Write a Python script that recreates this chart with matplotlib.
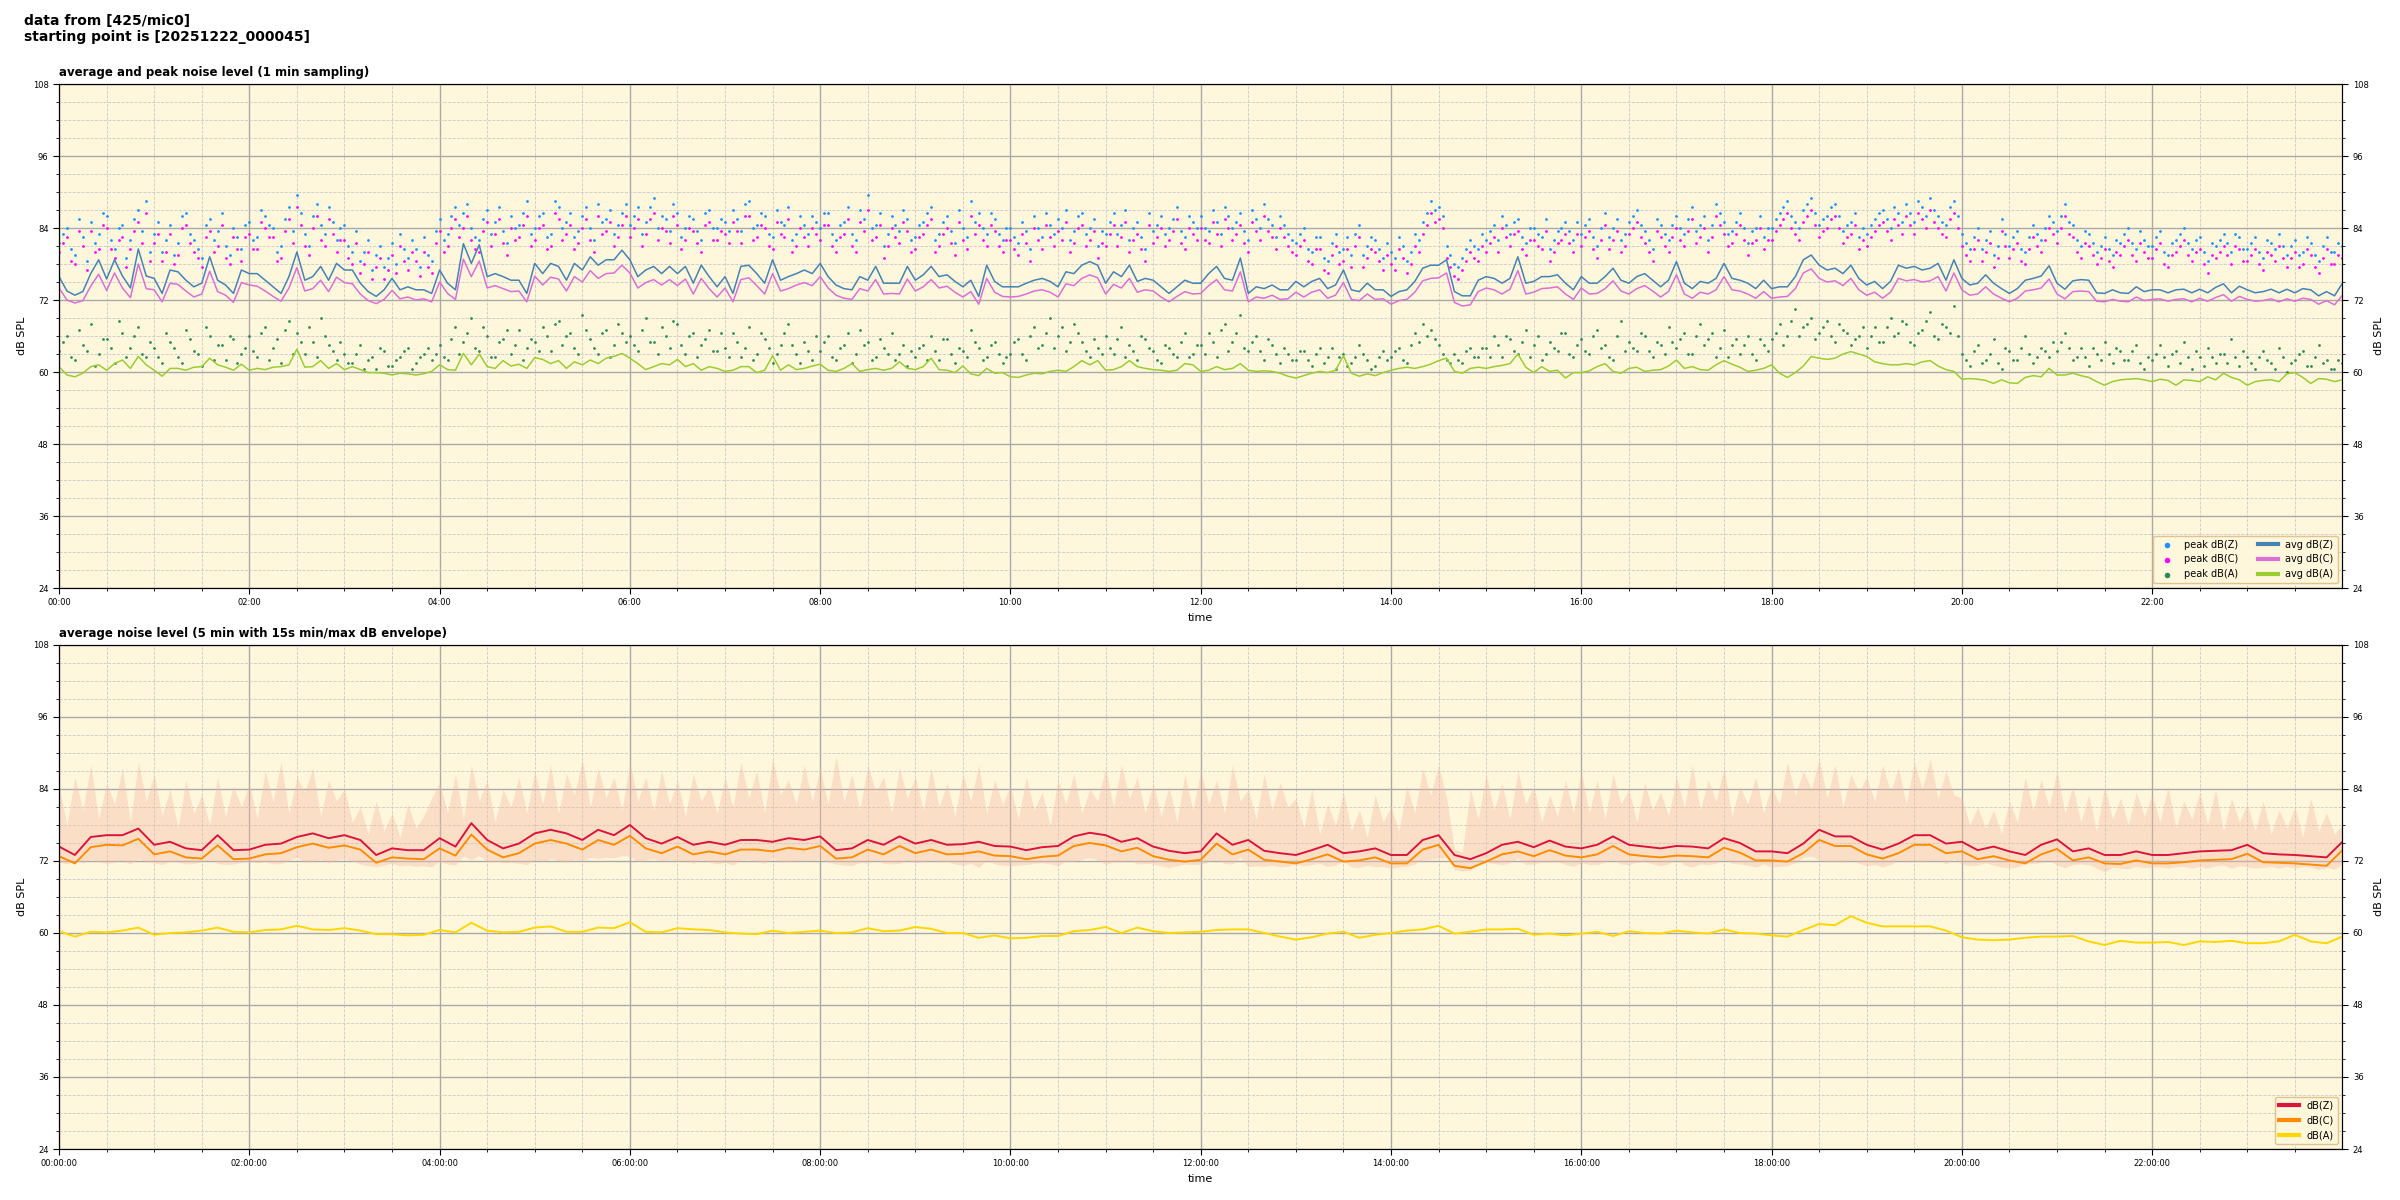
"""Daily noise level overview for one microphone (1 min and 5 min views)."""

import matplotlib
matplotlib.use("Agg")
import matplotlib.dates as mdates
import matplotlib.pyplot as plt
import pandas as pd

SOURCE = "425/mic0"
START = "20251222_000045"

# --- top panel, 5 min steps ---
avg_z = [
    75.9, 73.5, 72.8, 73.4, 76.4, 78.7, 75.5, 78.7, 76.0, 74.0, 80.5, 76.0,
    75.6, 73.1, 77.0, 76.7, 75.3, 74.2, 74.8, 79.2, 75.3, 74.5, 73.1, 77.0,
    76.4, 76.4, 75.3, 74.2, 73.1, 75.9, 80.0, 75.3, 75.9, 77.6, 75.3, 78.1,
    77.0, 77.0, 74.8, 73.4, 72.6, 73.7, 75.6, 73.7, 74.2, 73.7, 73.7, 73.1,
    77.0, 74.8, 73.7, 81.4, 78.1, 81.2, 75.9, 76.4, 75.9, 75.3, 75.3, 73.1,
    78.1, 76.4, 78.1, 77.6, 75.3, 78.1, 77.0, 79.2, 77.8, 78.7, 78.7, 80.3,
    78.7, 75.9, 77.0, 77.6, 76.4, 77.6, 76.4, 77.6, 74.8, 77.8, 75.9, 74.2,
    75.9, 73.1, 77.6, 77.8, 76.4, 74.8, 78.7, 75.3, 75.9, 76.4, 77.0, 76.4,
    78.1, 75.9, 74.5, 73.9, 73.7, 75.9, 75.3, 77.6, 74.8, 74.8, 74.8, 77.6,
    75.3, 76.2, 77.6, 75.9, 76.2, 75.1, 74.2, 75.3, 72.6, 77.8, 75.1, 74.2,
    74.2, 74.2, 74.8, 75.3, 75.6, 75.1, 74.2, 76.7, 76.4, 77.8, 78.4, 77.8,
    74.8, 76.7, 75.9, 77.8, 75.1, 75.6, 75.3, 74.2, 73.1, 74.2, 75.3, 74.8,
    74.8, 76.4, 77.6, 75.6, 75.3, 79.0, 73.1, 74.2, 73.9, 74.5, 73.7, 73.7,
    75.1, 74.2, 75.1, 75.6, 73.9, 74.5, 77.0, 73.7, 73.4, 74.8, 73.7, 73.7,
    72.6, 73.4, 73.7, 75.1, 77.3, 77.8, 77.8, 78.7, 73.4, 72.7, 72.7, 75.3,
    75.9, 75.6, 74.8, 75.6, 79.2, 74.8, 75.1, 75.9, 75.9, 76.2, 74.8, 73.7,
    75.9, 74.8, 74.8, 75.9, 77.3, 75.3, 74.8, 75.9, 76.4, 75.3, 74.2, 75.3,
    78.4, 74.8, 73.9, 75.1, 74.8, 75.6, 78.1, 75.6, 75.3, 74.8, 73.9, 75.3,
    73.9, 74.2, 74.2, 75.9, 78.7, 79.5, 77.8, 77.0, 77.3, 76.4, 77.8, 75.6,
    74.5, 75.1, 73.9, 75.1, 77.8, 77.3, 77.6, 77.0, 77.3, 78.1, 75.3, 78.7,
    75.6, 74.5, 74.8, 76.2, 74.8, 73.9, 73.1, 73.9, 75.3, 75.6, 76.0, 77.7,
    74.8, 73.8, 75.2, 75.4, 75.3, 73.2, 73.1, 73.7, 73.2, 73.1, 74.2, 73.4,
    73.7, 73.7, 73.2, 73.7, 73.8, 73.2, 73.8, 73.2, 74.1, 74.7, 73.2, 74.3,
    73.7, 73.2, 73.4, 73.8, 73.2, 73.8, 73.2, 73.9, 73.7, 72.7, 73.4, 72.7,
    74.8,
]
avg_c = [
    74.0, 72.0, 71.5, 71.9, 74.3, 76.3, 73.6, 76.5, 74.0, 72.4, 78.0, 73.9,
    73.7, 71.7, 74.8, 74.6, 73.5, 72.5, 73.0, 76.8, 73.4, 72.8, 71.6, 74.9,
    74.5, 74.3, 73.5, 72.6, 71.8, 74.0, 77.4, 73.5, 73.9, 75.3, 73.4, 75.8,
    74.9, 74.7, 73.0, 71.9, 71.4, 72.1, 73.6, 72.2, 72.5, 72.0, 72.2, 71.7,
    75.0, 73.1, 72.1, 78.8, 75.9, 78.5, 74.0, 74.4, 73.9, 73.4, 73.5, 71.7,
    76.0, 74.5, 75.8, 75.5, 73.5, 75.9, 75.0, 76.9, 75.6, 76.4, 76.5, 77.8,
    76.5, 74.0, 74.9, 75.4, 74.5, 75.4, 74.4, 75.5, 73.0, 75.6, 73.9, 72.5,
    74.0, 71.7, 75.4, 75.7, 74.4, 73.0, 76.4, 73.5, 73.9, 74.5, 74.9, 74.4,
    75.9, 74.0, 72.8, 72.3, 72.1, 73.9, 73.5, 75.4, 73.0, 73.1, 73.0, 75.5,
    73.5, 74.2, 75.4, 74.0, 74.3, 73.3, 72.5, 73.4, 71.3, 75.6, 73.3, 72.6,
    72.5, 72.6, 73.0, 73.5, 73.7, 73.3, 72.5, 74.7, 74.4, 75.6, 76.2, 75.7,
    73.0, 74.6, 74.0, 75.6, 73.3, 73.7, 73.5, 72.5, 71.7, 72.6, 73.4, 73.0,
    73.1, 74.4, 75.4, 73.7, 73.5, 76.7, 71.7, 72.5, 72.3, 72.8, 72.1, 72.2,
    73.3, 72.5, 73.3, 73.7, 72.3, 72.8, 74.9, 72.1, 71.9, 73.0, 72.1, 72.2,
    71.3, 71.9, 72.1, 73.3, 75.2, 75.6, 75.7, 76.5, 71.6, 71.0, 71.2, 73.4,
    74.0, 73.7, 73.0, 73.8, 76.9, 73.0, 73.3, 73.9, 74.0, 74.2, 73.0, 72.1,
    74.0, 73.0, 73.1, 73.9, 75.2, 73.5, 73.0, 73.9, 74.4, 73.5, 72.5, 73.4,
    76.2, 73.0, 72.3, 73.3, 73.0, 73.7, 75.9, 73.7, 73.5, 73.0, 72.3, 73.4,
    72.3, 72.5, 72.6, 73.9, 76.5, 77.2, 75.6, 75.0, 75.2, 74.4, 75.6, 73.7,
    72.8, 73.3, 72.3, 73.3, 75.6, 75.2, 75.4, 75.0, 75.2, 75.9, 73.5, 76.5,
    73.7, 72.8, 73.0, 74.2, 73.0, 72.3, 71.7, 72.3, 73.5, 73.7, 74.0, 75.5,
    73.0, 72.2, 73.4, 73.5, 73.4, 71.8, 71.7, 72.1, 71.8, 71.7, 72.5, 71.9,
    72.1, 72.2, 71.8, 72.1, 72.2, 71.7, 72.3, 71.8, 72.4, 72.9, 71.8, 72.6,
    72.1, 71.8, 71.9, 72.2, 71.7, 72.2, 71.8, 72.3, 72.1, 71.3, 71.9, 71.2,
    72.8,
]
avg_a = [
    60.9, 59.5, 59.2, 59.8, 60.9, 61.2, 60.3, 61.4, 62.0, 60.6, 62.6, 61.2,
    60.3, 59.3, 60.6, 60.6, 60.3, 60.8, 60.9, 62.3, 61.2, 60.8, 60.3, 61.3,
    60.3, 60.6, 60.4, 60.8, 60.9, 61.2, 63.8, 60.8, 60.9, 61.9, 60.6, 61.4,
    60.4, 60.9, 60.4, 59.9, 59.9, 59.8, 59.5, 59.8, 59.7, 59.5, 59.7, 60.1,
    61.2, 60.4, 60.3, 63.1, 61.2, 63.0, 60.9, 60.6, 61.9, 61.0, 61.3, 60.6,
    62.4, 62.1, 61.4, 61.9, 60.6, 61.7, 61.2, 62.0, 61.4, 62.3, 62.6, 63.1,
    62.3, 61.4, 60.4, 60.9, 61.4, 61.2, 62.1, 60.9, 61.4, 60.3, 60.9, 60.6,
    60.1, 60.3, 60.9, 60.9, 59.9, 60.3, 62.7, 60.3, 61.2, 60.4, 60.6, 61.0,
    61.3, 60.3, 60.1, 60.6, 61.4, 60.1, 60.4, 60.6, 60.3, 60.6, 61.7, 60.6,
    60.4, 60.9, 62.3, 60.4, 60.3, 59.9, 61.0, 59.7, 59.4, 60.6, 59.8, 59.9,
    59.2, 59.1, 59.5, 59.8, 59.7, 60.1, 60.3, 60.1, 60.9, 61.9, 61.2, 61.9,
    60.3, 60.4, 60.9, 61.9, 60.9, 60.6, 60.4, 60.3, 60.1, 60.3, 61.4, 61.2,
    60.1, 60.3, 60.9, 60.4, 60.6, 61.4, 60.3, 60.1, 60.2, 60.1, 59.8, 59.3,
    59.0, 59.4, 59.8, 60.1, 59.9, 60.3, 62.7, 59.8, 59.3, 59.7, 59.4, 59.9,
    60.3, 60.6, 60.8, 60.6, 60.9, 61.3, 61.9, 62.3, 60.1, 59.8, 60.6, 60.8,
    60.6, 60.9, 61.1, 61.4, 63.0, 60.8, 59.9, 60.9, 60.1, 60.3, 59.0, 59.9,
    59.9, 60.2, 60.9, 61.4, 60.1, 59.8, 60.6, 60.8, 60.1, 60.3, 60.4, 61.0,
    62.0, 60.6, 60.9, 60.4, 60.3, 61.2, 61.9, 61.3, 60.8, 60.1, 60.3, 60.6,
    61.2, 59.8, 59.1, 59.9, 61.0, 62.6, 62.3, 62.1, 62.3, 63.0, 63.4, 63.0,
    62.6, 61.7, 61.4, 61.2, 61.2, 61.4, 61.2, 61.7, 61.9, 61.0, 60.4, 60.1,
    58.8, 58.9, 58.8, 58.6, 58.1, 58.7, 58.2, 58.1, 59.1, 59.4, 59.2, 60.6,
    59.5, 59.5, 59.8, 59.4, 59.1, 58.4, 57.8, 58.4, 58.7, 58.8, 58.9, 58.7,
    58.4, 58.8, 58.6, 57.8, 58.7, 58.6, 58.4, 59.2, 58.7, 59.8, 59.1, 58.7,
    57.8, 58.4, 58.6, 58.7, 58.4, 59.7, 59.9, 59.1, 58.1, 58.9, 58.8, 58.4,
    58.7,
]
# per-minute peaks, two readings per 5 min slot (on the slot and 2.5 min after)
peak_z = [
    81.5, 84.0, 79.5, 82.5, 85.0, 83.0, 86.0, 80.5, 84.5, 82.0, 87.0, 88.5,
    83.0, 80.0, 84.5, 81.5, 86.5, 82.0, 79.0, 85.5, 83.5, 81.0, 84.0, 80.5,
    85.0, 82.5, 86.0, 84.0, 81.0, 87.5, 89.5, 83.0, 86.0, 84.5, 87.5, 82.0,
    84.5, 80.0, 78.5, 82.0, 79.5, 77.5, 81.5, 83.0, 79.0, 80.5, 82.5, 78.5,
    85.5, 83.0, 87.5, 86.5, 84.0, 82.0, 87.0, 85.0, 83.5, 86.0, 84.5, 88.5,
    84.0, 86.5, 83.0, 87.5, 85.0, 82.5, 86.0, 84.0, 88.0, 85.5, 83.0, 86.5,
    84.5, 87.5, 85.0, 89.0, 86.0, 83.5, 86.5, 84.0, 85.5, 82.0, 87.0, 84.0,
    85.0, 87.0, 83.5, 88.5, 84.5, 86.0, 82.5, 85.0, 87.5, 83.0, 84.5, 86.0,
    84.0, 86.5, 82.0, 85.0, 83.0, 87.0, 89.5, 84.5, 81.0, 86.0, 83.5, 85.5,
    82.5, 85.0, 87.5, 83.0, 86.0, 81.5, 84.0, 88.5, 86.5, 83.0, 85.5, 82.0,
    84.0, 81.5, 83.5, 86.0, 82.5, 84.5, 85.5, 87.0, 83.5, 86.5, 84.0, 81.0,
    83.0, 86.5, 84.5, 82.0, 85.0, 80.5, 83.5, 86.0, 84.0, 87.5, 82.5, 85.0,
    86.0, 83.5, 85.0, 87.5, 84.0, 86.5, 82.0, 85.5, 88.0, 84.5, 86.0, 83.0,
    81.5, 84.0, 80.0, 82.5, 78.5, 83.0, 80.5, 79.5, 84.5, 81.0, 82.0, 79.0,
    80.0, 82.5, 78.5, 83.0, 85.0, 88.5, 87.5, 81.0, 78.0, 79.0, 82.0, 80.5,
    82.0, 84.5, 86.0, 83.0, 85.5, 81.5, 84.0, 82.5, 80.5, 83.5, 85.0, 82.0,
    83.0, 85.5, 81.0, 86.5, 84.0, 82.0, 85.0, 87.0, 83.5, 80.5, 84.5, 82.0,
    86.0, 83.0, 87.5, 84.5, 82.0, 88.0, 85.0, 83.5, 86.5, 81.5, 84.0, 82.5,
    84.0, 86.5, 88.5, 85.0, 87.0, 89.0, 84.5, 86.0, 88.0, 83.5, 85.0, 82.5,
    83.0, 85.5, 87.0, 84.0, 86.5, 88.0, 85.0, 87.5, 89.0, 86.0, 84.5, 88.5,
    83.0, 80.5, 84.0, 82.0, 79.5, 85.5, 81.0, 83.5, 80.0, 84.5, 82.0, 86.0,
    83.5, 88.0, 84.5, 81.0, 83.0, 80.0, 82.5, 79.5, 81.5, 84.0, 80.5, 82.0,
    81.0, 83.5, 79.5, 82.0, 84.0, 80.5, 82.5, 78.5, 81.0, 83.0, 80.0, 82.5,
    80.5, 82.5, 79.0, 81.5, 83.0, 79.5, 82.0, 80.0, 81.5, 78.5, 82.5, 80.0,
    81.0,
]
peak_z_half = [
    83.0, 80.5, 85.5, 78.5, 81.5, 86.5, 82.0, 84.0, 79.0, 85.5, 83.5, 80.0,
    85.0, 82.0, 79.5, 86.0, 83.0, 80.5, 84.5, 82.0, 86.5, 79.5, 82.5, 84.5,
    82.0, 87.0, 84.5, 80.0, 85.5, 83.5, 86.5, 81.0, 88.0, 83.0, 85.0, 84.0,
    81.0, 83.5, 80.0, 77.0, 81.0, 79.0, 78.0, 80.5, 82.0, 77.5, 79.5, 83.5,
    82.0, 86.0, 84.5, 88.0, 82.5, 85.5, 83.0, 87.5, 81.5, 84.0, 86.5, 83.0,
    86.0, 82.5, 88.5, 84.0, 86.5, 83.5, 87.5, 82.0, 85.0, 87.0, 84.5, 88.0,
    86.0, 83.0, 87.5, 84.0, 85.5, 88.0, 82.5, 86.0, 83.5, 86.5, 84.0, 85.5,
    83.5, 85.5, 88.0, 84.0, 86.5, 83.0, 87.0, 84.5, 82.0, 86.0, 83.0, 85.0,
    86.5, 83.0, 84.5, 87.5, 82.0, 85.5, 84.0, 86.5, 83.0, 84.5, 87.0, 82.0,
    84.5, 86.5, 82.0, 85.0, 83.5, 87.0, 82.5, 85.0, 84.0, 86.5, 83.0, 84.0,
    82.5, 85.0, 80.5, 84.0, 86.5, 83.0, 84.0, 82.0, 86.0, 83.0, 85.5, 83.5,
    85.0, 83.0, 87.0, 84.0, 82.5, 86.5, 84.5, 83.0, 85.5, 83.5, 86.0, 84.0,
    84.0, 87.0, 83.0, 86.0, 85.0, 83.5, 87.0, 84.0, 85.5, 82.5, 84.5, 82.0,
    83.0, 80.5, 82.5, 79.0, 81.5, 80.0, 82.5, 83.0, 79.5, 82.5, 80.5, 81.5,
    79.0, 81.0, 80.0, 82.0, 86.5, 87.0, 86.0, 79.5, 77.5, 80.5, 81.0, 83.0,
    83.5, 82.0, 84.5, 85.0, 82.5, 84.0, 83.0, 85.5, 82.0, 84.0, 83.5, 85.0,
    84.5, 82.5, 84.0, 82.5, 85.5, 83.0, 86.0, 84.5, 82.0, 85.5, 83.0, 84.5,
    84.0, 85.5, 83.5, 86.0, 84.5, 86.5, 83.0, 85.0, 84.0, 83.5, 86.0, 84.0,
    85.5, 87.5, 86.0, 84.0, 88.0, 86.5, 85.5, 87.5, 86.0, 84.5, 86.5, 84.0,
    84.5, 86.5, 85.5, 87.5, 85.0, 86.5, 88.5, 86.0, 87.0, 85.0, 87.5, 86.0,
    81.5, 82.5, 80.5, 83.5, 81.0, 83.0, 82.5, 80.5, 82.5, 83.0, 84.0, 85.0,
    86.0, 85.0, 82.0, 83.5, 81.5, 81.0, 80.5, 82.0, 83.0, 81.5, 83.5, 81.0,
    82.5, 80.0, 81.5, 83.0, 81.5, 82.0, 80.0, 81.5, 82.0, 81.5, 83.0, 80.5,
    81.5, 80.0, 82.0, 80.5, 81.0, 81.0, 79.5, 82.5, 79.5, 81.0, 80.0, 81.5,
]
peak_c = [
    80.0, 82.5, 78.0, 81.0, 83.5, 80.5, 84.0, 79.0, 82.5, 80.5, 85.0, 86.5,
    81.5, 78.5, 83.0, 79.5, 84.5, 80.0, 77.5, 83.5, 81.0, 79.0, 82.5, 78.5,
    83.0, 80.5, 84.0, 82.5, 79.0, 85.5, 87.5, 81.0, 84.0, 82.0, 85.5, 80.0,
    82.0, 78.0, 76.5, 80.0, 77.5, 75.5, 79.5, 81.0, 77.0, 78.5, 80.0, 76.5,
    83.5, 81.0, 85.5, 84.0, 82.0, 80.0, 85.0, 83.0, 81.5, 84.0, 82.5, 86.0,
    82.0, 84.5, 81.0, 85.5, 83.0, 80.5, 84.0, 82.0, 86.0, 83.5, 81.0, 84.5,
    82.5, 85.5, 83.0, 86.5, 84.0, 81.5, 84.5, 82.0, 83.5, 80.0, 85.0, 82.0,
    83.0, 85.0, 81.5, 86.0, 82.5, 84.0, 80.5, 83.0, 85.5, 81.0, 82.5, 84.0,
    82.0, 84.5, 80.0, 83.0, 81.0, 85.0, 87.0, 82.5, 79.0, 84.0, 81.5, 83.5,
    80.5, 83.0, 85.5, 81.0, 84.0, 79.5, 82.0, 86.0, 84.5, 81.0, 83.5, 80.0,
    82.0, 79.5, 81.5, 84.0, 80.5, 82.5, 83.5, 85.0, 81.5, 84.5, 82.0, 79.0,
    81.0, 84.5, 82.5, 80.0, 83.0, 78.5, 81.5, 84.0, 82.0, 85.5, 80.5, 83.0,
    84.0, 81.5, 83.0, 85.5, 82.0, 84.5, 80.0, 83.5, 86.0, 82.5, 84.0, 81.0,
    79.5, 82.0, 78.0, 80.5, 76.5, 81.0, 78.5, 77.5, 82.5, 79.0, 80.0, 77.0,
    78.0, 80.5, 76.5, 81.0, 83.0, 86.5, 85.5, 79.0, 76.0, 77.0, 80.0, 78.5,
    80.0, 82.5, 84.0, 81.0, 83.5, 79.5, 82.0, 80.5, 78.5, 81.5, 83.0, 80.0,
    81.0, 83.5, 79.0, 84.5, 82.0, 80.0, 83.0, 85.0, 81.5, 78.5, 82.5, 80.0,
    84.0, 81.0, 85.5, 82.5, 80.0, 86.0, 83.0, 81.5, 84.5, 79.5, 82.0, 80.5,
    82.0, 84.5, 86.5, 83.0, 85.0, 87.0, 82.5, 84.0, 86.0, 81.5, 83.0, 80.5,
    81.0, 83.5, 85.0, 82.0, 84.5, 86.0, 83.0, 85.5, 87.0, 84.0, 82.5, 86.5,
    81.0, 78.5, 82.0, 80.0, 77.5, 83.5, 79.0, 81.5, 78.0, 82.5, 80.0, 84.0,
    81.5, 86.0, 82.5, 79.0, 81.0, 78.0, 80.5, 77.5, 79.5, 82.0, 78.5, 80.0,
    79.0, 81.5, 77.5, 80.0, 82.0, 78.5, 80.5, 76.5, 79.0, 81.0, 78.0, 80.5,
    78.5, 80.5, 77.0, 79.5, 81.0, 77.5, 80.0, 78.0, 79.5, 76.5, 80.5, 78.0,
    79.0,
]
peak_c_half = [
    81.5, 78.5, 83.5, 77.0, 80.0, 84.5, 80.5, 82.0, 77.5, 83.5, 81.5, 78.5,
    83.0, 80.0, 78.0, 84.0, 81.5, 79.0, 82.5, 80.0, 84.5, 78.0, 80.5, 82.5,
    80.5, 85.0, 82.5, 78.5, 83.5, 81.5, 84.5, 79.5, 86.0, 81.0, 83.0, 82.0,
    79.0, 81.5, 78.0, 75.5, 79.0, 77.0, 76.5, 78.5, 80.0, 76.0, 77.5, 81.5,
    80.0, 84.0, 82.5, 86.0, 80.5, 83.5, 81.0, 85.5, 79.5, 82.0, 84.5, 81.0,
    84.0, 80.5, 86.5, 82.0, 84.5, 81.5, 85.5, 80.0, 83.0, 85.0, 82.5, 86.0,
    84.0, 81.0, 85.5, 82.0, 83.5, 86.0, 80.5, 84.0, 81.5, 84.5, 82.0, 83.5,
    81.5, 83.5, 86.0, 82.0, 84.5, 81.0, 85.0, 82.5, 80.0, 84.0, 81.0, 83.0,
    84.5, 81.0, 82.5, 85.5, 80.0, 83.5, 82.0, 84.5, 81.0, 82.5, 85.0, 80.0,
    82.5, 84.5, 80.0, 83.0, 81.5, 85.0, 80.5, 83.0, 82.0, 84.5, 81.0, 82.0,
    80.5, 83.0, 78.5, 82.0, 84.5, 81.0, 82.0, 80.0, 84.0, 81.0, 83.5, 81.5,
    83.0, 81.0, 85.0, 82.0, 80.5, 84.5, 82.5, 81.0, 83.5, 81.5, 84.0, 82.0,
    82.0, 85.0, 81.0, 84.0, 83.0, 81.5, 85.0, 82.0, 83.5, 80.5, 82.5, 80.0,
    81.0, 78.5, 80.5, 77.0, 79.5, 78.0, 80.5, 81.0, 77.5, 80.5, 78.5, 79.5,
    77.0, 79.0, 78.0, 80.0, 84.5, 85.0, 84.0, 77.5, 75.5, 78.5, 79.0, 81.0,
    81.5, 80.0, 82.5, 83.0, 80.5, 82.0, 81.0, 83.5, 80.0, 82.0, 81.5, 83.0,
    82.5, 80.5, 82.0, 80.5, 83.5, 81.0, 84.0, 82.5, 80.0, 83.5, 81.0, 82.5,
    82.0, 83.5, 81.5, 84.0, 82.5, 84.5, 81.0, 83.0, 82.0, 81.5, 84.0, 82.0,
    83.5, 85.5, 84.0, 82.0, 86.0, 84.5, 83.5, 85.5, 84.0, 82.5, 84.5, 82.0,
    82.5, 84.5, 83.5, 85.5, 83.0, 84.5, 86.5, 84.0, 85.0, 83.0, 85.5, 84.0,
    79.5, 80.5, 78.5, 81.5, 79.0, 81.0, 80.5, 78.5, 80.5, 81.0, 82.0, 83.0,
    84.0, 83.0, 80.0, 81.5, 79.5, 79.0, 78.5, 80.0, 81.0, 79.5, 81.5, 79.0,
    80.5, 78.0, 79.5, 81.0, 79.5, 80.0, 78.0, 79.5, 80.0, 79.5, 81.0, 78.5,
    79.5, 78.0, 80.0, 78.5, 79.0, 79.0, 77.5, 80.5, 77.5, 79.0, 78.0, 79.5,
]
peak_a = [
    63.5, 66.0, 62.0, 64.5, 68.0, 63.0, 65.5, 61.5, 66.5, 64.0, 67.5, 62.5,
    64.0, 61.5, 65.0, 62.5, 67.0, 63.5, 61.0, 66.0, 64.5, 62.0, 65.5, 63.0,
    66.0, 62.5, 67.5, 64.0, 61.5, 68.5, 66.5, 63.0, 65.0, 69.0, 64.5, 62.0,
    63.0, 61.5, 64.5, 62.0, 60.5, 63.5, 61.0, 62.5, 64.0, 61.5, 63.0, 62.0,
    64.5, 62.0, 67.5, 65.0, 69.0, 63.5, 66.0, 62.5, 65.5, 63.0, 67.0, 64.0,
    65.0, 67.5, 63.5, 68.5, 66.0, 64.0, 69.5, 65.5, 63.0, 67.0, 64.5, 66.5,
    66.0, 63.5, 69.0, 65.0, 67.5, 64.0, 68.0, 63.0, 66.5, 64.5, 67.0, 63.5,
    64.0, 66.5, 62.5, 67.5, 63.0, 65.5, 61.5, 64.5, 68.0, 63.0, 65.0, 62.0,
    63.5, 66.0, 62.0, 64.5, 61.5, 67.0, 65.0, 62.5, 64.0, 66.5, 63.0, 61.0,
    62.5, 64.5, 66.0, 62.0, 65.5, 61.5, 63.5, 67.0, 64.0, 62.5, 65.0, 61.5,
    63.0, 65.5, 62.0, 67.5, 64.5, 69.0, 66.0, 63.5, 68.0, 65.0, 62.5, 64.0,
    66.0, 63.0, 67.5, 64.5, 62.0, 65.5, 63.5, 61.5, 64.0, 62.5, 66.5, 63.0,
    64.5, 66.5, 62.5, 68.0, 65.0, 69.5, 63.5, 66.0, 62.0, 64.5, 61.5, 63.0,
    62.0, 63.5, 61.0, 64.0, 62.5, 60.5, 63.0, 61.5, 64.5, 62.0, 61.0, 63.5,
    62.5, 64.0, 61.5, 66.5, 68.0, 67.0, 64.5, 62.0, 63.0, 61.5, 64.0, 62.5,
    64.0, 66.0, 62.5, 65.5, 63.0, 67.0, 64.5, 62.0, 65.0, 63.5, 66.5, 62.5,
    65.5, 63.0, 67.0, 64.5, 62.0, 68.5, 65.0, 63.5, 66.0, 62.5, 64.5, 67.5,
    64.0, 66.5, 63.0, 68.0, 65.5, 62.5, 67.0, 64.5, 63.0, 66.0, 62.0, 64.5,
    65.5, 68.0, 66.0, 70.5, 67.5, 69.0, 66.5, 68.5, 65.0, 67.0, 64.5, 66.0,
    64.0, 67.5, 65.0, 69.0, 66.5, 68.0, 64.5, 67.0, 70.0, 65.5, 67.5, 71.0,
    63.0, 61.0, 64.5, 62.0, 65.5, 60.5, 63.5, 62.0, 66.0, 61.5, 64.0, 62.5,
    63.5, 66.5, 62.0, 64.0, 61.0, 63.0, 65.0, 61.5, 63.5, 62.0, 64.5, 60.5,
    62.0, 64.5, 61.0, 63.5, 65.0, 60.5, 62.5, 64.0, 61.5, 63.0, 65.5, 61.0,
    62.5, 60.5, 63.5, 61.5, 64.0, 60.0, 62.0, 63.5, 61.0, 64.5, 62.0, 60.5,
    61.5,
]
peak_a_half = [
    65.0, 62.5, 67.0, 63.5, 61.0, 65.5, 64.0, 68.5, 62.5, 66.0, 63.0, 65.0,
    62.5, 66.5, 64.0, 61.5, 65.5, 63.0, 67.5, 62.0, 64.5, 66.0, 61.5, 64.0,
    63.5, 66.5, 62.0, 65.5, 67.0, 63.0, 65.0, 67.5, 62.5, 66.0, 63.5, 65.0,
    61.5, 63.0, 60.5, 62.5, 64.0, 61.0, 62.0, 63.5, 60.5, 62.5, 64.0, 63.0,
    62.5, 65.5, 63.0, 66.5, 64.0, 67.5, 62.5, 65.0, 67.0, 64.5, 62.0, 65.5,
    63.5, 66.0, 68.0, 64.5, 66.5, 63.0, 67.0, 64.0, 66.5, 62.5, 68.0, 65.0,
    64.5, 67.0, 65.0, 63.0, 66.0, 68.5, 64.5, 66.0, 62.5, 65.5, 63.5, 66.5,
    62.5, 65.0, 64.0, 62.0, 66.5, 64.0, 63.0, 66.5, 64.5, 61.5, 63.5, 66.0,
    65.0, 62.5, 64.0, 66.5, 63.0, 64.5, 62.0, 65.5, 63.0, 62.0, 64.5, 63.5,
    64.0, 62.0, 63.5, 65.5, 63.0, 64.0, 62.5, 65.0, 62.0, 64.5, 63.0, 62.5,
    65.0, 63.0, 66.0, 64.0, 66.5, 64.0, 67.5, 65.0, 66.5, 63.5, 65.5, 63.0,
    64.0, 65.5, 62.5, 63.5, 66.0, 64.0, 62.0, 64.5, 63.0, 65.0, 62.5, 64.5,
    63.0, 65.0, 67.0, 63.5, 66.5, 64.0, 65.0, 63.5, 65.5, 63.0, 64.0, 62.0,
    63.5, 62.0, 63.0, 61.5, 64.0, 62.5, 61.0, 62.5, 63.0, 60.5, 62.5, 62.0,
    63.5, 62.0, 64.5, 65.0, 66.0, 65.5, 63.0, 61.5, 62.0, 63.5, 62.5, 64.0,
    62.5, 64.5, 66.0, 63.5, 65.0, 62.5, 66.0, 63.0, 64.0, 66.5, 63.0, 64.5,
    63.5, 66.0, 64.0, 62.5, 66.0, 63.5, 64.0, 66.5, 63.5, 65.0, 63.0, 65.0,
    65.5, 63.0, 66.0, 64.5, 66.5, 64.0, 62.5, 65.5, 64.5, 63.0, 65.5, 63.5,
    66.5, 64.5, 68.5, 66.0, 68.0, 65.5, 67.5, 66.0, 68.0, 66.5, 65.5, 67.5,
    66.0, 65.0, 67.5, 66.0, 68.5, 65.0, 66.5, 68.5, 66.0, 68.0, 66.5, 66.0,
    62.0, 63.5, 61.5, 63.0, 61.5, 64.0, 62.0, 64.0, 63.0, 62.5, 63.5, 65.0,
    65.0, 64.0, 62.5, 62.5, 64.0, 62.0, 63.0, 64.0, 62.0, 63.5, 61.5, 62.5,
    63.0, 62.5, 63.0, 61.5, 62.5, 63.5, 61.0, 62.5, 63.0, 61.5, 62.5, 63.5,
    61.5, 62.5, 62.0, 60.5, 62.5, 61.5, 63.0, 61.0, 62.5, 61.5, 60.5, 62.0,
]

# --- bottom panel: 5 min averages (10 min steps here) ---
db_z = [
    74.4, 73.0, 76.0, 76.3, 76.3, 77.4, 74.7, 75.2, 74.1, 73.8, 76.3, 73.8,
    73.9, 74.7, 74.9, 76.0, 76.6, 75.8, 76.3, 75.5, 73.0, 74.1, 73.8, 73.8,
    75.8, 74.4, 78.3, 75.5, 74.1, 74.9, 76.6, 77.2, 76.6, 75.5, 77.2, 76.3,
    78.0, 75.8, 74.9, 76.0, 74.7, 75.2, 74.7, 75.5, 75.5, 75.2, 75.8, 75.5,
    76.1, 73.8, 74.1, 75.5, 74.7, 76.1, 74.9, 75.5, 74.7, 74.8, 75.2, 74.5,
    74.4, 73.8, 74.3, 74.5, 76.1, 76.7, 76.3, 75.2, 75.8, 74.4, 73.7, 73.3,
    73.6, 76.6, 74.7, 75.5, 73.7, 73.3, 73.0, 73.8, 74.7, 73.3, 73.6, 74.1,
    73.0, 73.0, 75.5, 76.3, 73.0, 72.3, 73.3, 74.7, 75.2, 74.3, 75.4, 74.4,
    74.1, 74.7, 76.1, 74.7, 74.4, 74.1, 74.5, 74.4, 74.1, 75.8, 75.0, 73.6,
    73.6, 73.3, 74.9, 77.2, 76.1, 76.1, 74.7, 73.9, 74.9, 76.3, 76.3, 74.9,
    75.2, 73.8, 74.4, 73.6, 73.0, 74.7, 75.6, 73.6, 74.1, 73.0, 73.0, 73.6,
    73.0, 73.0, 73.3, 73.6, 73.7, 73.8, 74.7, 73.3, 73.1, 73.0, 72.8, 72.6,
    75.2,
]
db_c = [
    72.8, 71.6, 74.3, 74.7, 74.6, 75.7, 73.1, 73.6, 72.6, 72.4, 74.6, 72.3,
    72.4, 73.1, 73.3, 74.3, 74.9, 74.2, 74.6, 73.9, 71.7, 72.6, 72.4, 72.3,
    74.1, 72.9, 76.4, 73.9, 72.6, 73.3, 74.9, 75.5, 74.9, 73.9, 75.5, 74.7,
    76.2, 74.1, 73.3, 74.4, 73.1, 73.6, 73.1, 73.9, 73.9, 73.6, 74.2, 73.9,
    74.5, 72.4, 72.6, 73.9, 73.1, 74.5, 73.3, 73.9, 73.1, 73.2, 73.6, 72.9,
    72.8, 72.3, 72.7, 72.9, 74.5, 75.0, 74.6, 73.6, 74.2, 72.8, 72.2, 71.9,
    72.2, 74.9, 73.1, 73.9, 72.2, 71.9, 71.6, 72.3, 73.1, 71.9, 72.1, 72.6,
    71.6, 71.6, 73.9, 74.7, 71.2, 70.8, 71.9, 73.1, 73.6, 72.8, 73.8, 72.9,
    72.6, 73.1, 74.5, 73.1, 72.8, 72.6, 72.9, 72.8, 72.6, 74.2, 73.4, 72.1,
    72.1, 71.9, 73.3, 75.5, 74.5, 74.5, 73.1, 72.4, 73.3, 74.7, 74.7, 73.3,
    73.6, 72.3, 72.8, 72.1, 71.6, 73.1, 74.0, 72.1, 72.6, 71.6, 71.5, 72.1,
    71.6, 71.6, 71.8, 72.1, 72.2, 72.3, 73.2, 71.8, 71.7, 71.6, 71.4, 71.2,
    73.8,
]
db_a = [
    60.3, 59.4, 60.2, 60.1, 60.4, 60.9, 59.7, 60.0, 60.1, 60.4, 60.9, 60.2,
    60.1, 60.5, 60.6, 61.2, 60.6, 60.5, 60.8, 60.4, 59.8, 59.8, 59.6, 59.7,
    60.5, 60.1, 61.7, 60.4, 60.1, 60.2, 60.9, 61.1, 60.2, 60.2, 60.9, 60.8,
    61.8, 60.2, 60.1, 60.8, 60.6, 60.5, 60.1, 59.9, 59.8, 60.4, 60.0, 60.2,
    60.4, 60.0, 60.1, 60.8, 60.3, 60.4, 61.0, 60.7, 60.0, 60.0, 59.2, 59.6,
    59.1, 59.2, 59.5, 59.5, 60.3, 60.5, 61.0, 60.0, 60.9, 60.3, 60.0, 60.1,
    60.2, 60.5, 60.6, 60.6, 60.0, 59.4, 58.9, 59.3, 59.9, 60.2, 59.2, 59.7,
    60.0, 60.4, 60.6, 61.2, 59.9, 60.2, 60.6, 60.6, 60.7, 59.7, 59.9, 59.6,
    59.9, 60.2, 59.5, 60.3, 60.0, 59.9, 60.4, 60.1, 59.9, 60.6, 60.0, 59.9,
    59.6, 59.4, 60.5, 61.5, 61.3, 62.8, 61.7, 61.1, 61.1, 61.1, 61.1, 60.4,
    59.3, 58.9, 58.8, 58.9, 59.2, 59.4, 59.4, 59.5, 58.6, 58.0, 58.7, 58.4,
    58.4, 58.5, 58.0, 58.6, 58.5, 58.7, 58.3, 58.3, 58.6, 59.7, 58.6, 58.3,
    59.4,
]
# 15 s min/max envelope, 5 min steps
env_max = [
    84.5, 78.0, 86.0, 80.5, 88.0, 79.0, 85.0, 81.5, 87.5, 78.5, 88.5, 82.0,
    86.5, 79.5, 84.0, 77.5, 85.5, 80.0, 83.0, 78.0, 86.0, 79.5, 84.5, 81.0,
    85.0, 79.0, 87.0, 82.0, 88.5, 80.0, 86.0, 83.5, 87.5, 79.5, 85.5, 82.0,
    84.0, 78.5, 81.0, 76.5, 82.0, 77.0, 80.0, 76.0, 81.5, 77.5, 79.5, 82.5,
    85.0, 80.0, 86.5, 79.0, 88.0, 82.0, 85.5, 78.5, 84.0, 81.0, 86.0, 80.0,
    87.0, 81.5, 88.0, 80.0, 86.5, 83.0, 89.0, 81.0, 87.5, 82.5, 86.0, 80.5,
    88.5, 82.0, 86.0, 80.5, 87.0, 81.5, 85.5, 79.5, 86.5, 82.0, 84.5, 80.0,
    86.0, 81.0, 88.5, 82.5, 87.0, 80.0, 89.0, 83.0, 85.5, 81.5, 88.0, 82.0,
    87.5, 81.5, 89.5, 82.0, 86.5, 80.5, 88.0, 83.5, 86.0, 80.0, 87.5, 82.5,
    86.0, 80.5, 87.5, 81.0, 85.0, 79.5, 86.5, 82.0, 88.0, 80.0, 85.5, 81.5,
    84.5, 79.0, 86.0, 80.5, 83.5, 78.0, 85.5, 81.5, 86.5, 80.0, 84.0, 82.0,
    87.5, 81.0, 88.0, 82.5, 86.0, 80.0, 85.0, 79.5, 84.5, 78.5, 86.5, 80.5,
    87.0, 81.5, 85.5, 80.0, 88.0, 82.0, 84.0, 79.0, 86.5, 80.5, 85.0, 81.0,
    82.5, 77.5, 84.0, 76.5, 81.5, 78.0, 83.5, 77.0, 80.5, 76.0, 83.0, 78.5,
    81.0, 77.0, 84.5, 80.0, 87.5, 83.0, 88.0, 82.5, 74.0, 73.5, 84.0, 79.0,
    86.5, 80.5, 85.0, 79.0, 87.0, 81.5, 84.5, 78.5, 83.0, 79.5, 85.5, 80.0,
    87.0, 80.0, 85.5, 79.0, 86.5, 81.5, 84.0, 78.5, 85.0, 80.5, 83.5, 79.5,
    86.0, 81.0, 88.0, 80.5, 85.5, 82.0, 87.5, 79.5, 84.5, 81.5, 86.0, 80.0,
    84.5, 81.5, 88.5, 83.0, 87.0, 84.0, 89.0, 82.5, 88.0, 81.0, 86.5, 83.5,
    86.0, 82.0, 88.0, 83.5, 87.5, 81.5, 88.5, 84.0, 89.0, 82.5, 87.0, 83.0,
    82.5, 78.0, 81.0, 77.5, 80.5, 76.5, 82.0, 78.5, 86.0, 80.5, 85.5, 81.0,
    87.0, 80.0, 84.5, 78.5, 83.0, 77.0, 84.5, 79.0, 82.5, 78.0, 83.5, 79.5,
    83.0, 78.5, 84.5, 77.5, 82.0, 79.0, 83.5, 78.0, 84.0, 77.0, 82.5, 78.5,
    81.5, 77.0, 82.0, 76.5, 80.5, 77.5, 81.0, 76.0, 82.5, 77.0, 80.0, 76.5,
    78.0,
]
env_min = [
    71.8, 71.5, 72.0, 71.7, 72.3, 71.9, 71.6, 71.8, 72.1, 71.5, 72.4, 71.9,
    71.7, 71.4, 72.0, 71.8, 71.5, 71.6, 71.9, 72.2, 71.6, 71.4, 71.5, 71.8,
    72.0, 71.7, 71.9, 71.5, 71.6, 72.1, 72.6, 71.8, 71.9, 72.3, 71.7, 72.2,
    72.4, 72.0, 71.5, 71.2, 71.0, 71.3, 71.6, 71.2, 71.3, 71.1, 71.2, 71.0,
    72.0, 71.5, 71.3, 72.8, 72.2, 72.9, 71.8, 72.0, 71.7, 71.8, 71.6, 71.4,
    72.3, 71.9, 72.4, 72.1, 71.8, 72.3, 72.0, 72.6, 72.4, 72.6, 72.5, 72.9,
    72.8, 71.9, 72.2, 72.4, 72.0, 72.3, 71.9, 72.2, 71.6, 72.3, 71.8, 71.5,
    71.8, 71.3, 72.2, 72.3, 71.9, 71.6, 72.5, 71.8, 71.9, 72.0, 72.1, 72.0,
    72.4, 71.8, 71.5, 71.3, 71.2, 71.8, 71.6, 72.2, 71.6, 71.5, 71.6, 72.1,
    71.7, 71.9, 72.2, 71.8, 71.9, 71.5, 71.3, 71.6, 70.9, 72.1, 71.5, 71.3,
    71.2, 71.3, 71.4, 71.6, 71.7, 71.5, 71.2, 72.0, 71.9, 72.3, 72.5, 72.2,
    71.4, 71.9, 71.8, 72.2, 71.5, 71.6, 71.5, 71.2, 70.9, 71.2, 71.5, 71.4,
    71.4, 71.9, 72.2, 71.6, 71.5, 72.6, 71.0, 71.2, 71.1, 71.3, 71.0, 71.1,
    71.5, 71.2, 71.4, 71.6, 71.1, 71.3, 71.9, 71.0, 70.9, 71.3, 71.0, 71.1,
    70.8, 71.0, 71.1, 71.5, 72.2, 72.3, 72.4, 72.6, 70.6, 70.3, 70.5, 71.4,
    71.7, 71.6, 71.4, 71.7, 72.5, 71.4, 71.5, 71.8, 71.8, 71.9, 71.4, 71.1,
    71.7, 71.4, 71.4, 71.8, 72.2, 71.5, 71.4, 71.8, 71.9, 71.5, 71.2, 71.5,
    72.4, 71.3, 71.0, 71.5, 71.4, 71.6, 72.3, 71.6, 71.5, 71.3, 71.0, 71.5,
    71.0, 71.1, 71.2, 71.7, 72.6, 72.8, 72.2, 71.9, 72.0, 71.8, 72.2, 71.6,
    71.2, 71.4, 71.0, 71.4, 72.1, 72.0, 72.0, 71.9, 72.0, 72.2, 71.5, 72.4,
    71.5, 71.2, 71.3, 71.7, 71.3, 71.0, 70.8, 71.0, 71.5, 71.6, 71.7, 72.2,
    71.3, 70.9, 71.4, 71.5, 71.4, 70.8, 70.2, 70.9, 70.8, 70.7, 71.1, 70.9,
    71.0, 71.0, 70.8, 71.0, 71.1, 70.8, 71.1, 70.8, 71.2, 71.3, 70.8, 71.2,
    71.0, 70.8, 70.9, 71.1, 70.8, 71.1, 70.8, 71.1, 71.0, 70.6, 70.9, 70.6,
    71.5,
]

t5 = pd.date_range("2025-12-22 00:00", periods=len(avg_z), freq="5min")
t5_half = t5[:-1] + pd.Timedelta(seconds=150)
t10 = pd.date_range("2025-12-22 00:00", periods=len(db_z), freq="10min")
day = (pd.Timestamp("2025-12-22 00:00"), pd.Timestamp("2025-12-22 23:59:59"))

FACE = "#fff7dc"
YTICKS = list(range(24, 109, 12))


def style_axis(ax, fmt):
    ax.set_facecolor(FACE)
    ax.set_xlim(*day)
    ax.set_ylim(24, 108)
    ax.set_yticks(YTICKS)
    ax.set_yticks(range(24, 109, 3), minor=True)
    ax.xaxis.set_major_locator(mdates.HourLocator(byhour=range(0, 24, 2)))
    ax.xaxis.set_minor_locator(mdates.MinuteLocator(byminute=[0, 30]))
    ax.xaxis.set_major_formatter(mdates.DateFormatter(fmt))
    ax.grid(which="major", color="#a9a9a9", lw=1.0)
    ax.grid(which="minor", color="#c9c9c9", lw=0.6, ls="--")
    ax.tick_params(which="both", labelsize=6, right=True, direction="out")
    ax.tick_params(which="major", length=4)
    ax.tick_params(which="minor", length=2)
    for sp in ax.spines.values():
        sp.set_color("black")
    ax.set_xlabel("time", fontsize=8)
    ax.set_ylabel("dB SPL", fontsize=8)
    twin = ax.twinx()
    twin.set_ylim(24, 108)
    twin.set_yticks(YTICKS)
    twin.set_yticks(range(24, 109, 3), minor=True)
    twin.tick_params(which="both", labelsize=6)
    twin.tick_params(which="major", length=4)
    twin.tick_params(which="minor", length=2)
    twin.set_ylabel("dB SPL", fontsize=8)


fig, (ax1, ax2) = plt.subplots(2, 1, figsize=(24, 12), dpi=100)
fig.subplots_adjust(left=0.0246, right=0.976, top=0.93, bottom=0.0425, hspace=0.113)

fig.text(0.01, 0.988, f"data from [{SOURCE}]\nstarting point is [{START}]",
         fontsize=10, fontweight="bold", va="top", ha="left", linespacing=1.1)

# top: peaks and averages
dot = dict(s=4, lw=0, zorder=2)
ax1.scatter(t5, peak_z, color="dodgerblue", label="peak dB(Z)", **dot)
ax1.scatter(t5_half, peak_z_half, color="dodgerblue", **dot)
ax1.scatter(t5, peak_c, color="magenta", label="peak dB(C)", **dot)
ax1.scatter(t5_half, peak_c_half, color="magenta", **dot)
ax1.scatter(t5, peak_a, color="seagreen", label="peak dB(A)", **dot)
ax1.scatter(t5_half, peak_a_half, color="seagreen", **dot)
ax1.plot(t5, avg_z, color="steelblue", lw=1.1, label="avg dB(Z)", zorder=3)
ax1.plot(t5, avg_c, color="orchid", lw=1.1, label="avg dB(C)", zorder=3)
ax1.plot(t5, avg_a, color="yellowgreen", lw=1.1, label="avg dB(A)", zorder=3)
style_axis(ax1, "%H:%M")
ax1.set_title("average and peak noise level (1 min sampling)", loc="left",
              fontsize=8.5, fontweight="bold")
leg1 = ax1.legend(loc="lower right", ncol=2, fontsize=7, markerscale=2.0,
                  facecolor=FACE, edgecolor="#e2c28f", framealpha=1.0)
for line in leg1.get_lines():
    line.set_linewidth(3)

# bottom: 5 min averages with envelope
ax2.fill_between(t5, env_min, env_max, color="#f4b8a4", alpha=0.38, lw=0, zorder=2)
ax2.plot(t10, db_z, color="crimson", lw=1.4, label="dB(Z)", zorder=3)
ax2.plot(t10, db_c, color="darkorange", lw=1.4, label="dB(C)", zorder=3)
ax2.plot(t10, db_a, color="gold", lw=1.4, label="dB(A)", zorder=3)
style_axis(ax2, "%H:%M:%S")
ax2.set_title("average noise level (5 min with 15s min/max dB envelope)", loc="left",
              fontsize=8.5, fontweight="bold")
leg2 = ax2.legend(loc="lower right", fontsize=7, facecolor=FACE,
                  edgecolor="#e2c28f", framealpha=1.0)
for line in leg2.get_lines():
    line.set_linewidth(3)

fig.savefig("out.png", dpi=100)
